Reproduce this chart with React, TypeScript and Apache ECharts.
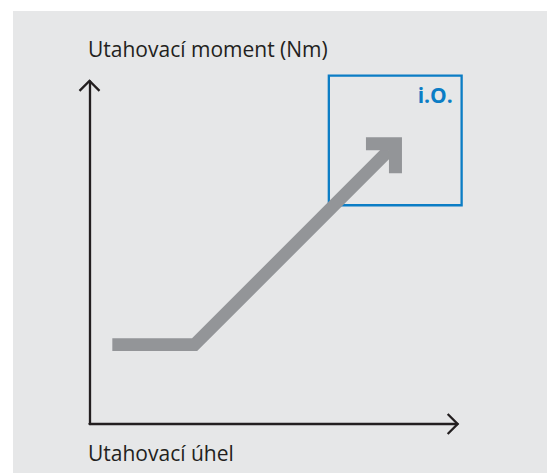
import React, { useEffect, useRef } from "react";
import * as echarts from "echarts";

// Tightening curve (angle on x, torque on y), in data units
const angleValues = [6.0, 27.6, 78.7];
const torqueValues = [22.4, 22.4, 77.3];
// OK window (i.O.)
const okAngleRange = [62.9, 97.8];
const okTorqueRange = [61.8, 98.4];

const yAxisTitle = "Utahovací moment (Nm)";
const xAxisTitle = "Utahovací úhel";
const okLabel = "i.O.";

const CHEVRON = "path://M10.81,0 L21.62,10.82 L20,12.44 L10.81,3.26 L1.62,12.44 L0,10.82 Z";
const ARROW_HEAD = "path://M0,0 L36,0 L36,36 L23,36 L23,13 L0,13 Z";

const INK = "#231f20";
const BLUE = "#0b7dc5";
const GREY = "#939598";

export default function App() {
  const ref = useRef<HTMLDivElement>(null);
  useEffect(() => {
    const chart = echarts.init(ref.current!, null, { renderer: "svg" });
    const lineData = angleValues.map((x, i) => {
      const last = i === angleValues.length - 1;
      return { value: [x, torqueValues[i]], symbol: last ? ARROW_HEAD : "none" };
    });
    const axisCommon = {
      type: "value",
      min: 0,
      max: 100,
      axisTick: { show: false },
      axisLabel: { show: false },
      splitLine: { show: false },
    };
    chart.setOption({
      animation: false,
      backgroundColor: "#ffffff",
      graphic: [
        {
          type: "rect",
          z: -100,
          silent: true,
          shape: { x: 13, y: 11, width: 534, height: 462 },
          style: { fill: "#e6e7e8" },
        },
        {
          type: "text",
          x: 88,
          y: 48.6,
          silent: true,
          style: {
            text: yAxisTitle,
            font: '21px "Open Sans"',
            fill: INK,
            verticalAlign: "middle",
            align: "left",
          },
        },
        {
          type: "text",
          x: 88,
          y: 452.9,
          silent: true,
          style: {
            text: xAxisTitle,
            font: '21px "Open Sans"',
            fill: INK,
            verticalAlign: "middle",
            align: "left",
          },
        },
      ],
      grid: [
        { left: 89.5, right: 89.7, top: 81.3, bottom: 49 },
        { left: 89.5, right: 77, top: 70, bottom: 49 },
      ],
      xAxis: [
        {
          ...axisCommon,
          gridIndex: 0,
          axisLine: {
            show: true,
            onZero: false,
            symbol: ["none", CHEVRON],
            symbolSize: [21.62, 12.44],
            symbolOffset: [0, -4.22],
            lineStyle: { color: INK, width: 2.3 },
          },
        },
        { ...axisCommon, gridIndex: 1, show: false },
      ],
      yAxis: [
        {
          ...axisCommon,
          gridIndex: 0,
          axisLine: {
            show: true,
            onZero: false,
            symbol: ["none", CHEVRON],
            symbolSize: [21.62, 12.44],
            symbolOffset: [0, -4.22],
            lineStyle: { color: INK, width: 2.3 },
          },
        },
        { ...axisCommon, gridIndex: 1, show: false },
      ],
      series: [
        {
          type: "line",
          xAxisIndex: 1,
          yAxisIndex: 1,
          silent: true,
          clip: false,
          data: lineData,
          showSymbol: true,
          showAllSymbol: true,
          symbolSize: [36, 36],
          symbolOffset: [-5, 5],
          lineStyle: { color: GREY, width: 12.7, cap: "butt", join: "miter" },
          itemStyle: { color: GREY, borderWidth: 0 },
          markArea: {
            silent: true,
            itemStyle: { color: "rgba(0,0,0,0)", borderColor: BLUE, borderWidth: 2.3 },
            label: {
              show: true,
              position: "insideTopRight",
              distance: 10,
              formatter: okLabel,
              color: BLUE,
              fontFamily: "Open Sans",
              fontWeight: "bold",
              fontSize: 21,
            },
            data: [
              [
                { coord: [okAngleRange[0], okTorqueRange[1]], name: okLabel },
                { coord: [okAngleRange[1], okTorqueRange[0]] },
              ],
            ],
          },
        },
      ],
    });
    return () => chart.dispose();
  }, []);
  return (
    <div
      ref={ref}
      style={{ position: "fixed", left: 0, top: 0, width: 547, height: 473, background: "#fff" }}
    />
  );
}
